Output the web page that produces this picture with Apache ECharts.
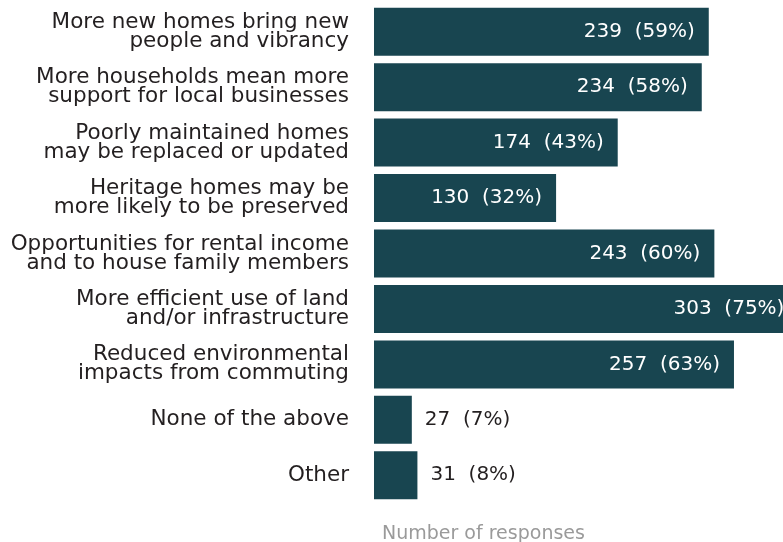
<!DOCTYPE html>
<html>
<head>
<meta charset="utf-8">
<script src="https://cdn.jsdelivr.net/npm/echarts@6/dist/echarts.min.js"></script>
<style>
  html, body { margin: 0; padding: 0; background: #fff; }
  #chart { width: 783px; height: 542px; }
</style>
</head>
<body>
<div id="chart"></div>
<script>
const categories = [
  'More new homes bring new\npeople and vibrancy',
  'More households mean more\nsupport for local businesses',
  'Poorly maintained homes\nmay be replaced or updated',
  'Heritage homes may be\nmore likely to be preserved',
  'Opportunities for rental income\nand to house family members',
  'More efficient use of land\nand/or infrastructure',
  'Reduced environmental\nimpacts from commuting',
  'None of the above',
  'Other'
]
const responses = [239, 234, 174, 130, 243, 303, 257, 27, 31]
const percents = [59, 58, 43, 32, 60, 75, 63, 7, 8]

const barColor = '#184550'
const font = 'DejaVu Sans'

const chart = echarts.init(document.getElementById('chart'))

// big bars get the label inside, small ones outside
const seriesData = responses.map((v, i) => {
  const inside = v > 100
  return {
    value: v,
    label: {
      position: inside ? 'insideRight' : 'right',
      color: inside ? '#fff' : '#231f20',
      distance: inside ? 14 : 13
    }
  }
})

// two-line labels sit a few px lower in the original
const yData = categories.map(c => ({
  value: c,
  textStyle: { padding: c.indexOf('\n') >= 0 ? [6, 0, 0, 0] : 0 }
}))

chart.setOption({
  animation: false,
  title: {
    text: 'Number of responses',
    left: 377,
    top: 520,
    textStyle: { color: '#9a9a9a', fontSize: 19, fontWeight: 'normal', fontFamily: font }
  },
  grid: { left: 374, right: 0, top: 4, bottom: 39 },
  // axis ends at the canvas edge, the longest bar runs past it
  xAxis: {
    type: 'value',
    min: 0,
    max: 292,
    show: false
  },
  yAxis: {
    type: 'category',
    inverse: true,
    data: yData,
    axisLine: { show: false },
    axisTick: { show: false },
    axisLabel: {
      margin: 25,
      fontSize: 21.5,
      lineHeight: 19,
      color: '#231f20',
      fontFamily: font
    }
  },
  series: [{
    type: 'bar',
    barWidth: 48,
    clip: false,
    itemStyle: { color: barColor },
    data: seriesData,
    label: {
      show: true,
      fontSize: 20,
      fontFamily: font,
      formatter: p => p.value + '  (' + percents[p.dataIndex] + '%)'
    }
  }]
})
</script>
</body>
</html>
